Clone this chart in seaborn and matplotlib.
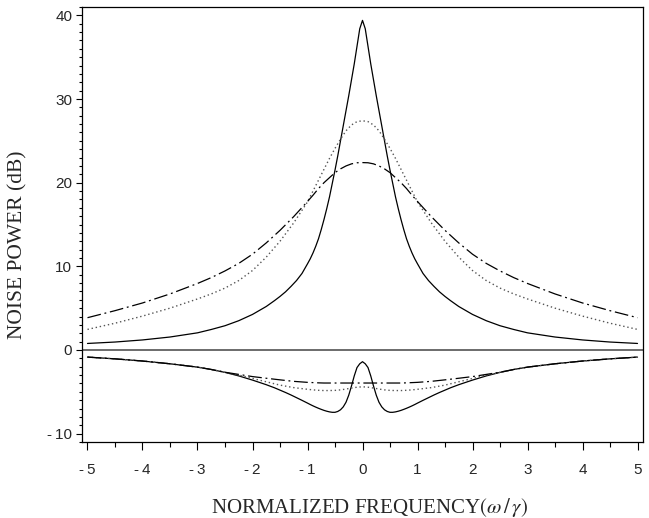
import numpy as np
import pandas as pd
import matplotlib
matplotlib.use("Agg")
import matplotlib.pyplot as plt
import seaborn as sns
from matplotlib.ticker import MultipleLocator

# ---- data (curves are symmetric about 0) ----
x_fine = [0.0, 0.05, 0.1, 0.15, 0.2, 0.25, 0.3, 0.35, 0.4, 0.45, 0.5, 0.55, 0.6, 0.65, 0.7, 0.75,
          0.8, 0.85, 0.9, 0.95, 1.0, 1.1, 1.2, 1.3, 1.4, 1.5, 1.6, 1.75, 2.0, 2.25, 2.5, 2.75,
          3.0, 3.5, 4.0, 4.5, 5.0]
x_coarse = [0.0, 0.1, 0.2, 0.3, 0.4, 0.5, 0.6, 0.7, 0.8, 0.9, 1.0, 1.25, 1.5, 1.75, 2.0, 2.25,
            2.5, 2.75, 3.0, 3.5, 4.0, 4.5, 5.0]

upper_solid = [39.4, 38.4, 36.3, 34.2, 32.3, 30.4, 28.6, 26.8, 25.0, 23.2, 21.5, 19.9, 18.3, 16.9,
               15.6, 14.4, 13.3, 12.4, 11.6, 10.9, 10.3, 9.15, 8.3, 7.6, 6.95, 6.4, 5.9, 5.2, 4.25,
               3.5, 2.9, 2.45, 2.05, 1.55, 1.2, 0.95, 0.78]
lower_solid = [-1.4, -1.65, -2.1, -3.1, -4.3, -5.4, -6.25, -6.8, -7.15, -7.35, -7.45, -7.45, -7.4,
               -7.32, -7.22, -7.1, -6.97, -6.83, -6.68, -6.52, -6.35, -6.02, -5.7, -5.38, -5.08,
               -4.8, -4.52, -4.15, -3.6, -3.1, -2.68, -2.33, -2.05, -1.65, -1.32, -1.06, -0.85]

upper_dotted = [27.4, 27.3, 26.9, 26.2, 25.2, 24.1, 22.9, 21.6, 20.3, 19.0, 17.7, 15.2, 13.0, 11.1,
                9.5, 8.3, 7.4, 6.7, 6.1, 5.0, 4.05, 3.2, 2.46]
upper_dashdot = [22.4, 22.38, 22.25, 22.0, 21.65, 21.2, 20.6, 20.0, 19.3, 18.5, 17.75, 15.95, 14.3,
                 12.8, 11.45, 10.35, 9.45, 8.65, 7.95, 6.7, 5.62, 4.7, 3.86]
lower_dotted = [-4.4, -4.45, -4.55, -4.67, -4.77, -4.83, -4.85, -4.85, -4.82, -4.77, -4.7, -4.5,
                -4.2, -3.8, -3.4, -3.0, -2.67, -2.33, -2.05, -1.65, -1.32, -1.06, -0.85]
lower_dashdot = [-3.95, -3.95, -3.95, -3.95, -3.95, -3.95, -3.95, -3.95, -3.93, -3.9, -3.87, -3.75,
                 -3.57, -3.38, -3.18, -2.92, -2.66, -2.33, -2.05, -1.65, -1.32, -1.06, -0.85]

x_ticks = [-5, -4, -3, -2, -1, 0, 1, 2, 3, 4, 5]
y_ticks = [-10, 0, 10, 20, 30, 40]


def mirror(xs, ys):
    xs = np.asarray(xs)
    ys = np.asarray(ys)
    return np.concatenate([-xs[:0:-1], xs]), np.concatenate([ys[:0:-1], ys])


def tick_text(v):
    return f"-\u2009{abs(v)}" if v < 0 else f"{v}"


sns.set_theme(style="ticks")
plt.rcParams["font.family"] = ["Liberation Sans", "DejaVu Sans"]
plt.rcParams["mathtext.fontset"] = "stix"

fig = plt.figure(figsize=(6.49, 5.18), dpi=100)
ax = fig.add_axes([82 / 649, 1 - 442 / 518, (643 - 82) / 649, (442 - 7) / 518])

styles = {
    "solid": dict(color="black", lw=0.9, ls="-"),
    "dotted": dict(color="#555555", lw=1.0, ls=(0, (1, 2))),
    "dashdot": dict(color="black", lw=0.9, ls=(0, (11, 3, 1.5, 3))),
}

series = [
    (x_fine, upper_solid, "solid"),
    (x_coarse, upper_dotted, "dotted"),
    (x_coarse, upper_dashdot, "dashdot"),
    (x_fine, lower_solid, "solid"),
    (x_coarse, lower_dotted, "dotted"),
    (x_coarse, lower_dashdot, "dashdot"),
]

for xv, vals, st in series:
    xs, ys = mirror(xv, vals)
    df = pd.DataFrame({"x": xs, "y": ys})
    s = styles[st]
    sns.lineplot(data=df, x="x", y="y", ax=ax, color=s["color"], lw=s["lw"],
                 linestyle=s["ls"], estimator=None, sort=True)

ax.axhline(0, color="#444444", lw=1.1)

ax.set_xlim(-5.1, 5.1)
ax.set_ylim(-11, 41)
ax.set_xticks(x_ticks)
ax.set_xticklabels([tick_text(t) for t in x_ticks])
ax.set_yticks(y_ticks)
ax.set_yticklabels([tick_text(t) for t in y_ticks])
ax.xaxis.set_minor_locator(MultipleLocator(0.5))
ax.yaxis.set_minor_locator(MultipleLocator(1))
ax.tick_params(axis="x", which="major", length=6, width=0.8, direction="out", pad=9, labelsize=11, color="black")
ax.tick_params(axis="x", which="minor", length=3.5, width=0.8, direction="out", color="black")
ax.tick_params(axis="y", which="major", length=4, width=0.8, direction="out", pad=3, labelsize=11, color="black")
ax.tick_params(axis="y", which="minor", length=2, width=0.8, direction="out", color="black")
for sp in ax.spines.values():
    sp.set_visible(True)
    sp.set_color("black")
    sp.set_linewidth(0.9)

ax.set_xlabel(r"NORMALIZED FREQUENCY$(\omega\,/\,\gamma)$", family="Liberation Serif", fontsize=15)
ax.set_ylabel("NOISE POWER (dB)", family="Liberation Serif", fontsize=15.5)
ax.xaxis.set_label_coords(0.513, -0.125)
ax.yaxis.set_label_coords(-0.098, 0.453)

fig.savefig("out.png", dpi=100)
